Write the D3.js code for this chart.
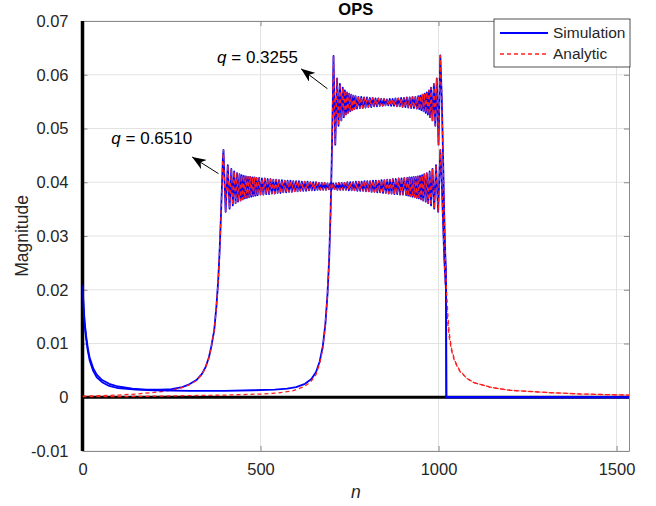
<!DOCTYPE html>
<html><head><meta charset="utf-8">
<script src="https://cdn.jsdelivr.net/npm/d3@7"></script>
<style>body{margin:0;background:#fff;} svg{display:block;font-family:"Liberation Sans",Arial,Helvetica,sans-serif;}</style>
</head><body><svg id="c" width="656" height="506"></svg>
<script>
// ---------- data ----------
const titleText = "OPS";
const xLabel = "n";
const yLabel = "Magnitude";
const xTicks = [0, 500, 1000, 1500];
const xTickLabels = ["0", "500", "1000", "1500"];
const yTicks = [-0.01, 0, 0.01, 0.02, 0.03, 0.04, 0.05, 0.06, 0.07];
const yTickLabels = ["-0.01", "0", "0.01", "0.02", "0.03", "0.04", "0.05", "0.06", "0.07"];
const xDomain = [0, 1535];
const yDomain = [-0.01, 0.07];
const seriesNames = ["Simulation", "Analytic"];
const qLabels = ["0.3255", "0.6510"];

// curve for q = 0.6510 (wide band)
const sim1Low = [[0,0.0210],[3,0.0170],[6,0.0140],[10,0.0115],[15,0.0091],[20,0.0074],[30,0.0054],[40,0.0042],[55,0.0032],[75,0.0025],[100,0.0020],[140,0.0016],[180,0.0014],[220,0.0014],[250,0.0015],[280,0.0019],[300,0.0024],[320,0.0032],[335,0.0043],[345,0.0055],[355,0.0074],[362,0.0095],[370,0.0125],[376,0.0168],[381,0.0215],[385,0.0270],[389,0.0340],[392,0.0400],[394,0.0440]];
const ana1Low = [[0,0.0002],[50,0.0003],[100,0.0004],[150,0.0006],[200,0.0009],[250,0.0013],[280,0.0018],[300,0.0023],[320,0.0031],[335,0.0042],[345,0.0054],[355,0.0073],[362,0.0094],[370,0.0125],[376,0.0168],[381,0.0215],[385,0.0270],[389,0.0340],[392,0.0400],[394,0.0440]];
const band1Left = [[396,0.0460],[402,0.0345],[408,0.0432],[413,0.0351],[418,0.0425],[422,0.0357],[426,0.0420],[430,0.0361],[434,0.0417],[437,0.0364],[441,0.0415],[444,0.0366],[447,0.0413],[450,0.0368],[453,0.0412],[456,0.0370],[459,0.0411],[462,0.0371],[465,0.0410],[468,0.0372],[471,0.0410],[474,0.0373],[477,0.0409],[480,0.0374],[483,0.0409],[486,0.0375],[489,0.0408],[492,0.0376]];
const band1MidStart = 496, band1MidStep = 4;
const band1Mid = [.0408,.0377,.0407,.0377,.0407,.0378,.0406,.0378,.0406,.0379,.0405,.0379,.0405,.0380,.0404,.0380,.0404,.0381,.0403,.0381,.0403,.0382,.0403,.0382,.0402,.0383,.0402,.0383,.0402,.0384,.0401,.0384,.0401,.0384,.0401,.0385,.0400,.0385,.0400,.0385,.0400,.0386,.0399,.0386,.0399,.0386,.0399,.0386,.0398,.0387,.0398,.0387,
 .0398,.0387,.0398,.0386,.0399,.0386,.0399,.0386,.0399,.0386,.0400,.0385,.0400,.0385,.0400,.0385,.0401,.0384,.0401,.0384,.0401,.0384,.0402,.0383,.0402,.0383,.0402,.0382,.0403,.0382,.0403,.0381,.0403,.0381,.0404,.0380,.0404,.0380,.0405,.0379,.0405,.0379,.0406,.0378,.0406,.0378,.0407,.0377,.0407,.0377,.0408];
const band1Right = [[909,0.0376],[912,0.0408],[915,0.0375],[918,0.0409],[921,0.0374],[924,0.0409],[927,0.0373],[930,0.0410],[933,0.0372],[936,0.0410],[939,0.0371],[942,0.0411],[945,0.0370],[948,0.0412],[951,0.0368],[954,0.0413],[957,0.0366],[960,0.0415],[964,0.0364],[967,0.0417],[971,0.0361],[975,0.0420],[979,0.0357],[983,0.0425],[988,0.0351],[993,0.0432],[999,0.0345],[1005,0.0460]];
const sim1Fall = [[1009,0.0400],[1013,0.0320],[1016,0.0260],[1019,0.0220],[1021,0.0200],[1022,0],[1535,0]];
const ana1Tail = [[1009,0.0400],[1013,0.0320],[1016,0.0260],[1019,0.0215],[1022,0.0175],[1026,0.0138],[1030,0.0112],[1036,0.0088],[1045,0.0067],[1060,0.0048],[1080,0.0035],[1100,0.0027],[1150,0.0018],[1200,0.0013],[1300,0.0009],[1400,0.0006],[1535,0.0004]];

// curve for q = 0.3255 (narrow band)
const sim2Low = [[0,0.0205],[3,0.0165],[6,0.0135],[10,0.0110],[15,0.0086],[20,0.0069],[30,0.0049],[40,0.0037],[55,0.0028],[75,0.0021],[100,0.0017],[150,0.0014],[200,0.0013],[300,0.0012],[400,0.0012],[480,0.0013],[540,0.0014],[575,0.0016],[600,0.0019],[625,0.0025],[643,0.0034],[656,0.0047],[666,0.0066],[675,0.0095],[682,0.0135],[688,0.0190],[693,0.0260],[697,0.0350],[700,0.0440],[703,0.0550]];
const ana2Low = [[0,0.0001],[100,0.0001],[200,0.0002],[300,0.0003],[400,0.0004],[450,0.0005],[500,0.0006],[550,0.0008],[590,0.0012],[620,0.0019],[640,0.0028],[655,0.0041],[666,0.0062],[675,0.0090],[682,0.0135],[688,0.0190],[693,0.0260],[697,0.0350],[700,0.0440],[703,0.0550]];
const band2Left = [[705,0.0635],[710,0.0470],[715,0.0593],[719,0.0505],[723,0.0583],[727,0.0515],[731,0.0576],[734,0.0521],[737,0.0571],[740,0.0526],[743,0.0567],[746,0.0529],[749,0.0565],[752,0.0532],[755,0.0563],[758,0.0534],[761,0.0561],[764,0.0536]];
const band2MidStart = 767, band2MidStep = 4;
const band2Mid = [.0560,.0537,.0559,.0538,.0559,.0538,.0558,.0539,.0558,.0540,.0557,.0540,.0557,.0541,.0556,.0541,.0556,.0542,.0555,.0542,.0555,.0543,.0554,.0543,.0555,.0542,.0555,.0542,.0556,.0541,.0556,.0541,.0557,.0540,.0557,.0540,.0558,.0539,.0558,.0538,.0559,.0538,.0559,.0537,.0560];
const band2Right = [[946,0.0536],[949,0.0561],[952,0.0534],[955,0.0563],[958,0.0532],[961,0.0565],[964,0.0529],[967,0.0567],[970,0.0526],[973,0.0571],[976,0.0521],[979,0.0576],[983,0.0515],[987,0.0583],[991,0.0505],[995,0.0593],[1000,0.0470],[1005,0.0636]];
const sim2Fall = [[1009,0.0560],[1013,0.0440],[1016,0.0340],[1019,0.0265],[1021,0.0235],[1022,0],[1535,0]];
const ana2Tail = [[1009,0.0560],[1013,0.0440],[1016,0.0340],[1019,0.0265],[1022,0.0205],[1026,0.0155],[1030,0.0120],[1036,0.0092],[1045,0.0069],[1060,0.0049],[1080,0.0035],[1100,0.0027],[1150,0.0018],[1200,0.0013],[1300,0.0009],[1400,0.0006],[1535,0.0004]];

// annotation anchors in data units: [tail, head], text position
const annot = [
  {label: qLabels[0], text:[378,0.0633], tail:[688,0.0574], head:[614,0.0611]},
  {label: qLabels[1], text:[81,0.0483], tail:[382,0.0416], head:[308,0.0447]}
];

// ---------- build ----------
const expand = (start, step, vals) => vals.map((v,i) => [start + step*i, v]);
const sim1 = [].concat(sim1Low, band1Left, expand(band1MidStart, band1MidStep, band1Mid), band1Right, sim1Fall);
const ana1 = [].concat(ana1Low, band1Left, expand(band1MidStart, band1MidStep, band1Mid), band1Right, ana1Tail);
const sim2 = [].concat(sim2Low, band2Left, expand(band2MidStart, band2MidStep, band2Mid), band2Right, sim2Fall);
const ana2 = [].concat(ana2Low, band2Left, expand(band2MidStart, band2MidStep, band2Mid), band2Right, ana2Tail);

const W = 656, H = 506;
const M = {left: 82.5, right: 629, top: 21, bottom: 451};
const svg = d3.select("#c");
const x = d3.scaleLinear().domain(xDomain).range([M.left, M.right]);
const y = d3.scaleLinear().domain(yDomain).range([M.bottom, M.top]);
const txtCol = "#262626", boxCol = "#8a8a8a";

svg.append("rect").attr("width", W).attr("height", H).attr("fill", "#fff");
svg.append("defs").append("clipPath").attr("id","clip").append("rect")
  .attr("x", M.left).attr("y", M.top).attr("width", M.right-M.left).attr("height", M.bottom-M.top);

// grid
const g = svg.append("g");
g.selectAll(".gx").data(xTicks).join("line")
  .attr("x1", d=>x(d)).attr("x2", d=>x(d)).attr("y1", M.top).attr("y2", M.bottom)
  .attr("stroke", "#e3e3e3").attr("stroke-width", 1);
g.selectAll(".gy").data(yTicks).join("line")
  .attr("y1", d=>y(d)).attr("y2", d=>y(d)).attr("x1", M.left).attr("x2", M.right)
  .attr("stroke", "#e3e3e3").attr("stroke-width", 1);

// axes with inward ticks
const axB = d3.axisBottom(x).tickValues(xTicks).tickFormat((d,i)=>xTickLabels[i]).tickSizeInner(-5).tickSizeOuter(0).tickPadding(12);
const axL = d3.axisLeft(y).tickValues(yTicks).tickFormat((d,i)=>yTickLabels[i]).tickSizeInner(-5).tickSizeOuter(0).tickPadding(14);
const axT = d3.axisTop(x).tickValues(xTicks).tickFormat("").tickSizeInner(-5).tickSizeOuter(0);
const axR = d3.axisRight(y).tickValues(yTicks).tickFormat("").tickSizeInner(-5).tickSizeOuter(0);
function style(sel){
  sel.selectAll("path").attr("stroke", boxCol).attr("stroke-width", 1);
  sel.selectAll("line").attr("stroke", boxCol);
  sel.selectAll("text").attr("fill", txtCol).style("font-size", "16.5px").style("font-family", '"Liberation Sans",Arial,sans-serif');
}
svg.append("g").attr("transform", `translate(0,${M.bottom})`).call(axB).call(style);
svg.append("g").attr("transform", `translate(${M.left},0)`).call(axL).call(style);
svg.append("g").attr("transform", `translate(0,${M.top})`).call(axT).call(style);
svg.append("g").attr("transform", `translate(${M.right},0)`).call(axR).call(style);

// thick black reference axes (not clipped)
svg.append("line").attr("x1", x(0)).attr("x2", x(0)).attr("y1", y(yDomain[0])).attr("y2", y(yDomain[1]))
  .attr("stroke", "#000").attr("stroke-width", 3.5);
svg.append("line").attr("x1", x(xDomain[0])).attr("x2", x(xDomain[1])).attr("y1", y(0)).attr("y2", y(0))
  .attr("stroke", "#000").attr("stroke-width", 3.2);

// plot content
const plot = svg.append("g").attr("clip-path", "url(#clip)");
const line = d3.line().x(d=>x(d[0])).y(d=>y(d[1]));
const simStyle = {stroke:"#0000ff", width:1.8, dash:null};
const anaStyle = {stroke:"#ff1f1f", width:1.3, dash:"4,3"};
[[sim1, simStyle],[ana1, anaStyle],[sim2, simStyle],[ana2, anaStyle]].forEach(([d,s])=>{
  plot.append("path").datum(d).attr("d", line).attr("fill","none")
    .attr("stroke", s.stroke).attr("stroke-width", s.width)
    .attr("stroke-dasharray", s.dash).attr("stroke-linejoin","round");
});

// title and labels
svg.append("text").attr("x", (M.left+M.right)/2).attr("y", 15).attr("text-anchor","middle")
  .attr("font-weight","bold").attr("font-size", "16.5px").attr("fill", "#000").text(titleText);
svg.append("text").attr("x", (M.left+M.right)/2).attr("y", 498).attr("text-anchor","middle")
  .attr("font-style","italic").attr("font-size","17.5px").attr("fill", txtCol).text(xLabel);
svg.append("text").attr("transform", `translate(28,${(M.top+M.bottom)/2}) rotate(-90)`).attr("text-anchor","middle")
  .attr("font-size","17.5px").attr("fill", txtCol).text(yLabel);

// annotations
const defs = svg.select("defs");
defs.append("marker").attr("id","ah").attr("viewBox","0 0 14 11").attr("refX",14).attr("refY",5.5)
  .attr("markerWidth",14).attr("markerHeight",11).attr("markerUnits","userSpaceOnUse").attr("orient","auto")
  .append("path").attr("d","M0,0 L14,5.5 L0,11 L4,5.5 Z").attr("fill","#000");
annot.forEach(a=>{
  svg.append("line").attr("x1", x(a.tail[0])).attr("y1", y(a.tail[1])).attr("x2", x(a.head[0])).attr("y2", y(a.head[1]))
    .attr("stroke","#000").attr("stroke-width",1).attr("marker-end","url(#ah)");
  const t = svg.append("text").attr("x", x(a.text[0])).attr("y", y(a.text[1])).attr("dy","0.35em")
    .attr("font-size","17px").attr("fill","#000");
  t.append("tspan").attr("font-style","italic").text("q");
  t.append("tspan").text(" = " + a.label);
});

// legend
const lg = svg.append("g");
const lx0 = 494, ly0 = 19, lw = 136, lh = 48;
lg.append("rect").attr("x", lx0).attr("y", ly0).attr("width", lw).attr("height", lh)
  .attr("fill","#fff").attr("stroke", "#262626").attr("stroke-width", 0.8);
[simStyle, anaStyle].forEach((s,i)=>{
  const yy = ly0 + 14 + i*21;
  lg.append("line").attr("x1", lx0+6).attr("x2", lx0+54).attr("y1", yy).attr("y2", yy)
    .attr("stroke", s.stroke).attr("stroke-width", s.width).attr("stroke-dasharray", s.dash);
  lg.append("text").attr("x", lx0+59).attr("y", yy).attr("dy","0.35em").attr("font-size","15.5px")
    .attr("fill", txtCol).text(seriesNames[i]);
});
</script></body></html>
